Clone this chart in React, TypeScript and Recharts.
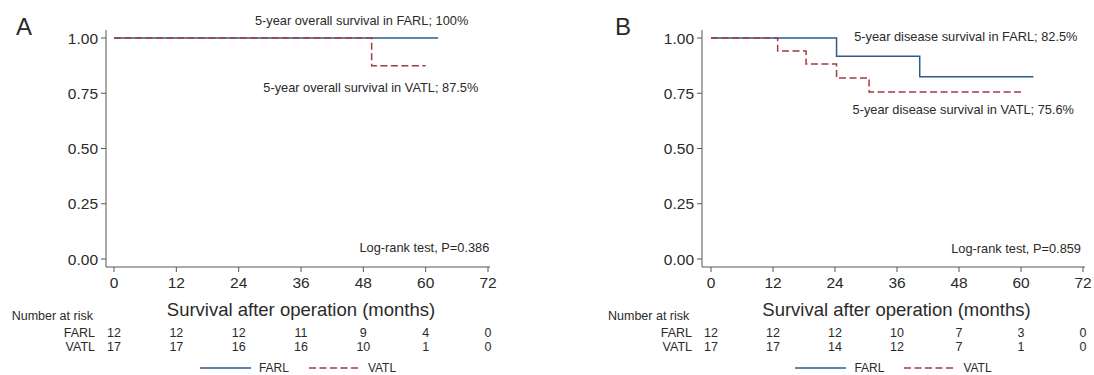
import { LineChart, Line, XAxis, YAxis, Legend } from 'recharts'

// Kaplan–Meier step points (months, survival)
const timesA_FARL = [0, 62.4]
const survA_FARL = [1, 1]
const timesA_VATL = [0, 49.6, 60]
const survA_VATL = [1, 0.875, 0.875]

const timesB_FARL = [0, 24.3, 40.4, 62.4]
const survB_FARL = [1, 0.917, 0.825, 0.825]
const timesB_VATL = [0, 12.9, 18.4, 24.3, 30.6, 60]
const survB_VATL = [1, 0.941, 0.882, 0.819, 0.756, 0.756]

// number at risk
const riskTimes = [0, 12, 24, 36, 48, 60, 72]
const riskA_FARL = [12, 12, 12, 11, 9, 4, 0]
const riskA_VATL = [17, 17, 16, 16, 10, 1, 0]
const riskB_FARL = [12, 12, 12, 10, 7, 3, 0]
const riskB_VATL = [17, 17, 14, 12, 7, 1, 0]

const yTicks = [0, 0.25, 0.5, 0.75, 1]

const FONT = '"Liberation Sans", Arial, Helvetica, sans-serif'
const BLUE = '#2d5b8c'
const RED = '#a33a44'
const TEXT = '#2a2a2a'
const AXIS = '#555'
const DASH = '7 3.5'

const toRows = (t: number[], s: number[]) => t.map((v, i) => ({ t: v, s: s[i] }))

function RiskTick(props: any) {
  const { x, y, payload, counts, group } = props
  const i = riskTimes.indexOf(payload.value)
  return (
    <g>
      {i === 0 && (
        <text x={x - 19} y={y} dy="0.355em" textAnchor="end" fontSize={12.5} fill={TEXT}>{group}</text>
      )}
      <text x={x} y={y} dy="0.355em" textAnchor="middle" fontSize={12.5} fill={TEXT}>{counts[i]}</text>
    </g>
  )
}

const LegendContent = () => (
  <div style={{ display: 'flex', justifyContent: 'center', alignItems: 'center', height: 15, fontSize: 12, color: TEXT, fontFamily: FONT }}>
    <svg width={51} height={4}><line x1={0} y1={2} x2={51} y2={2} stroke={BLUE} strokeWidth={1.5} /></svg>
    <span style={{ marginLeft: 8 }}>FARL</span>
    <svg width={52} height={4} style={{ marginLeft: 20 }}><line x1={0} y1={2} x2={52} y2={2} stroke={RED} strokeWidth={1.5} strokeDasharray={DASH} /></svg>
    <span style={{ marginLeft: 7 }}>VATL</span>
  </div>
)

interface PanelProps {
  left: number
  letter: string
  letterX: number
  yAxisWidth: number
  marginRight: number
  padLeft: number
  farl: { t: number; s: number }[]
  vatl: { t: number; s: number }[]
  riskFarl: number[]
  riskVatl: number[]
  notes: { text: string; x: number; y: number }[]
  riskLabelX: number
}

function Panel(p: PanelProps) {
  const W = 547
  const plotW = W - p.yAxisWidth - p.marginRight
  const riskRows = riskTimes.map((t, i) => ({ t, farl: p.riskFarl[i], vatl: p.riskVatl[i] }))
  return (
    <div style={{ position: 'absolute', left: p.left, top: 0, fontFamily: FONT }}>
      <LineChart width={W} height={375} data={riskRows} margin={{ top: 30, right: p.marginRight, left: 0, bottom: 0 }}>
        <XAxis
          xAxisId="main" dataKey="t" type="number" domain={[0, 72]} ticks={riskTimes} interval={0}
          padding={{ left: p.padLeft, right: 2 }} height={58}
          tickSize={5} tickMargin={5}
          stroke={AXIS} tick={{ fill: TEXT, fontSize: 15.5 }}
          label={{ value: 'Survival after operation (months)', position: 'insideBottom', offset: 9, dx: 3, style: { fill: TEXT, fontSize: 18.5 } }}
        />
        <XAxis
          xAxisId="riskFarl" dataKey="t" type="number" domain={[0, 72]} ticks={riskTimes} interval={0}
          padding={{ left: p.padLeft, right: 2 }} height={15} axisLine={false} tickLine={false}
          tickSize={0} tickMargin={8}
          tick={(props: any) => <RiskTick {...props} counts={p.riskFarl} group="FARL" />}
        />
        <XAxis
          xAxisId="riskVatl" dataKey="t" type="number" domain={[0, 72]} ticks={riskTimes} interval={0}
          padding={{ left: p.padLeft, right: 2 }} height={20} axisLine={false} tickLine={false}
          tickSize={0} tickMargin={7}
          tick={(props: any) => <RiskTick {...props} counts={p.riskVatl} group="VATL" />}
        />
        <YAxis
          type="number" domain={[0, 1]} ticks={yTicks} width={p.yAxisWidth}
          padding={{ top: 8, bottom: 8 }} tickSize={5} tickMargin={3}
          stroke={AXIS} tick={{ fill: TEXT, fontSize: 15.5 }}
          tickFormatter={(v: number) => v.toFixed(2)}
        />
        <YAxis yAxisId="risk" hide domain={[0, 100]} />
        {/* invisible carriers so the risk-table axes get their data */}
        <Line xAxisId="riskFarl" yAxisId="risk" dataKey="farl" stroke="none" dot={false} activeDot={false} legendType="none" isAnimationActive={false} />
        <Line xAxisId="riskVatl" yAxisId="risk" dataKey="vatl" stroke="none" dot={false} activeDot={false} legendType="none" isAnimationActive={false} />
        <Line xAxisId="main" data={p.farl} dataKey="s" type="stepAfter" stroke={BLUE} strokeWidth={1.5} dot={false} isAnimationActive={false} />
        <Line xAxisId="main" data={p.vatl} dataKey="s" type="stepAfter" stroke={RED} strokeWidth={1.5} strokeDasharray={DASH} dot={false} isAnimationActive={false} />
        <Legend verticalAlign="bottom" content={<LegendContent />} wrapperStyle={{ left: p.yAxisWidth, width: plotW }} />
        <text x={p.letterX} y={35} fontSize={24} fill={TEXT}>{p.letter}</text>
        <text x={p.riskLabelX} y={320} fontSize={12.5} fill={TEXT}>Number at risk</text>
        {p.notes.map(n => (
          <text key={n.text} x={n.x} y={n.y} textAnchor="end" fontSize={12.8} fill={TEXT}>{n.text}</text>
        ))}
      </LineChart>
    </div>
  )
}

export default function App() {
  return (
    <div style={{ position: 'absolute', left: 0, top: 0, width: 1094, height: 375, background: '#fff' }}>
      <Panel
        left={0} letter="A" letterX={16} yAxisWidth={106} marginRight={57} padLeft={8}
        farl={toRows(timesA_FARL, survA_FARL)} vatl={toRows(timesA_VATL, survA_VATL)}
        riskFarl={riskA_FARL} riskVatl={riskA_VATL} riskLabelX={11.7}
        notes={[
          { text: '5-year overall survival in FARL; 100%', x: 468.3, y: 24.5 },
          { text: '5-year overall survival in VATL; 87.5%', x: 478.3, y: 92.3 },
          { text: 'Log-rank test, P=0.386', x: 489.3, y: 252 },
        ]}
      />
      <Panel
        left={547} letter="B" letterX={68} yAxisWidth={155} marginRight={9} padLeft={9}
        farl={toRows(timesB_FARL, survB_FARL)} vatl={toRows(timesB_VATL, survB_VATL)}
        riskFarl={riskB_FARL} riskVatl={riskB_VATL} riskLabelX={61}
        notes={[
          { text: '5-year disease survival in FARL; 82.5%', x: 530.5, y: 41 },
          { text: '5-year disease survival in VATL; 75.6%', x: 527, y: 114 },
          { text: 'Log-rank test, P=0.859', x: 534, y: 253 },
        ]}
      />
    </div>
  )
}
